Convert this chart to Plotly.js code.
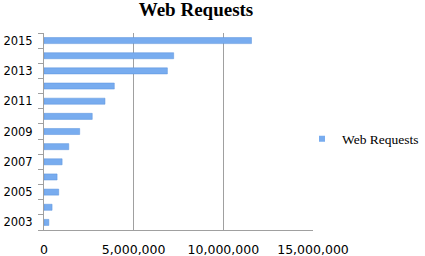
<!DOCTYPE html>
<html><head><meta charset="utf-8">
<script src="https://cdn.plot.ly/plotly-3.0.1.min.js"></script>
<style>html,body{margin:0;padding:0;background:#fff}#chart{width:425px;height:256px}</style>
</head><body><div id="chart"></div>
<script>
const years = ['2003','2004','2005','2006','2007','2008','2009','2010','2011','2012','2013','2014','2015'];
const requests = [270000, 450000, 820000, 730000, 1010000, 1380000, 1990000, 2690000, 3400000, 3920000, 6880000, 7230000, 11570000];
const yearLabels = ['2003','','2005','','2007','','2009','','2011','','2013','','2015'];
const xTicks = [0, 5000000, 10000000, 15000000];
const xTickText = ['0', '5,000,000', '10,000,000', '15,000,000'];
const seriesName = 'Web Requests';
const barColor = '#78acef';

const bars = {
  type: 'bar', orientation: 'h', name: seriesName,
  x: requests, y: years,
  marker: {color: barColor, line: {color: '#5b93dc', width: 0.5}},
  showlegend: false, hoverinfo: 'x+y'
};
const legendKey = {
  type: 'scatter', mode: 'markers', name: seriesName,
  x: [null], y: [null],
  marker: {symbol: 'square', size: 6, color: barColor},
  showlegend: true, hoverinfo: 'skip'
};
const layout = {
  width: 425, height: 256,
  margin: {l: 43.5, r: 111.5, t: 32.5, b: 26, pad: 0, autoexpand: false},
  paper_bgcolor: '#fff', plot_bgcolor: '#fff',
  title: {text: '<b>Web Requests</b>', x: 196/425, xanchor: 'center', y: 0.99, yanchor: 'top',
          font: {family: 'Liberation Serif, DejaVu Serif, serif', size: 19, color: '#000'}},
  bargap: 0.6,
  xaxis: {range: [0, 15000000], tickvals: xTicks, ticktext: xTickText,
          showgrid: true, gridcolor: '#a0a0a0', gridwidth: 1,
          zeroline: false, showline: true, linecolor: '#a0a0a0', linewidth: 1,
          ticks: '', ticklen: 0, ticklabelstandoff: 8,
          tickfont: {family: 'DejaVu Sans, sans-serif', size: 12.5, color: '#000'}, fixedrange: true},
  yaxis: {type: 'category', categoryorder: 'array', categoryarray: years,
          tickvals: years, ticktext: yearLabels, tickson: 'boundaries',
          ticks: 'outside', ticklen: 5, tickcolor: '#a0a0a0', tickwidth: 1,
          showline: true, linecolor: '#a0a0a0', linewidth: 1, showgrid: false, zeroline: false,
          ticklabelstandoff: 8,
          tickfont: {family: 'DejaVu Sans, sans-serif', size: 11.5, color: '#000'}, fixedrange: true},
  legend: {xref: 'container', x: 302/425, xanchor: 'left', yref: 'container', y: 1 - 139/256, yanchor: 'middle',
           font: {family: 'Liberation Serif, DejaVu Serif, serif', size: 13.5, color: '#000'},
           itemwidth: 30, bgcolor: 'rgba(0,0,0,0)'},
};
Plotly.newPlot('chart', [bars, legendKey], layout, {staticPlot: true, displayModeBar: false});
</script></body></html>
